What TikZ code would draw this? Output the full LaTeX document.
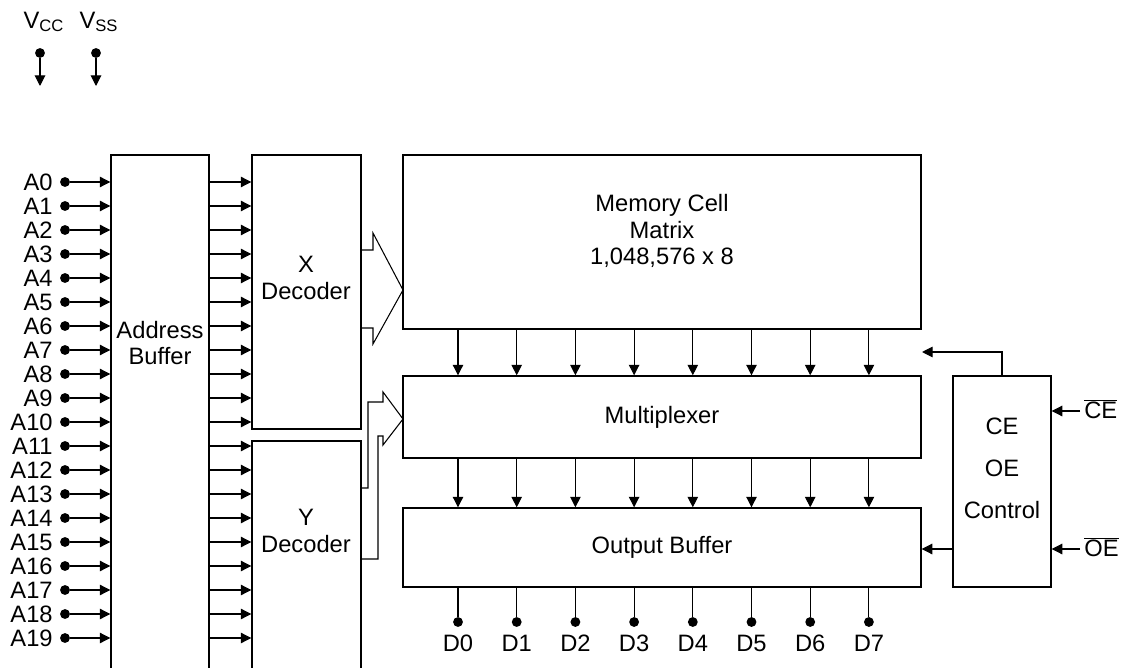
\documentclass[tikz,border=0pt]{standalone}
\usepackage{fontspec}
\setmainfont{Liberation Sans}
\usetikzlibrary{arrows.meta,fit}

\begin{document}
\begin{tikzpicture}[x=0.02cm, y=-0.02cm,
  font=\fontsize{13.5pt}{15pt}\selectfont,
  blk/.style={draw, line width=0.8pt, inner sep=0pt},
  sig/.style={line width=0.6pt, -{Triangle[length=6pt,width=6pt]}},
  wire/.style={line width=0.6pt},
  pin/.style={circle, fill, inner sep=0pt, minimum size=5.6pt}]

  % ====== 1) 画布（像素坐标，y 向下） ======
  \path[use as bounding box, clip] (0,0) rectangle (1124,668);

  % ====== 2) 电源引脚 ======
  \node[pin] (vcc) at (40,53) {};
  \node[pin] (vss) at (96,53) {};
  \coordinate (vccend) at (40,86);
  \coordinate (vssend) at (96,86);
  \draw[sig] (vcc) -- (vccend);
  \draw[sig] (vss) -- (vssend);
  \node (vcclab) at (44,22) {V\textsubscript{CC}};
  \node (vsslab) at (99,22) {V\textsubscript{SS}};

  % ====== 3) 方块 ======
  \node[blk, fit={(111,155) (209,700)}] (abuf) {};
  \node[blk, fit={(252,155) (361,429)}] (xdec) {};
  \node[blk, fit={(252,441) (361,700)}] (ydec) {};
  \node[blk, fit={(403,155) (921,329)}] (mem) {};
  \node[blk, fit={(403,376) (921,458)}] (mux) {};
  \node[blk, fit={(403,508) (921,587)}] (obuf) {};
  \node[blk, fit={(953,376) (1051,587)}] (ctrl) {};

  \node[align=center] (abuftxt) at (160,343) {Address\\Buffer};
  \node[align=center] (xdectxt) at (306,278) {X\\Decoder};
  \node[align=center] (ydectxt) at (306,531) {Y\\Decoder};
  \node[align=center] (memtxt) at (662,231) {Memory Cell\\Matrix\\1,048,576 x 8};
  \node (muxtxt) at (662,417) {Multiplexer};
  \node (obuftxt) at (662,547) {Output Buffer};
  \node[align=center] (ctrltxt) at (1002,468) {CE\\[9pt]OE\\[9pt]Control};

  % ====== 4) 地址引脚 A0--A19 ======
  \foreach \i in {0,...,19}{
    \pgfmathsetmacro{\yy}{182+24*\i}
    \node[pin] (a\i) at (65,\yy) {};
    \node[anchor=east, inner sep=0pt] (alab\i) at (53,\yy) {A\i};
    \draw[sig] (a\i) -- (a\i -| abuf.west);
  }
  \foreach \i in {0,...,10}
    \draw[sig] (abuf.east |- a\i) -- (xdec.west |- a\i);
  \foreach \i in {11,...,19}
    \draw[sig] (abuf.east |- a\i) -- (ydec.west |- a\i);

  % ====== 5) 空心箭头（译码器 -> 阵列 / 多路器） ======
  \draw[wire] (361,250) -- (373,250) -- (373,233) -- (403,290)
    -- (373,344) -- (373,328) -- (361,328);
  \draw[wire] (361,488) -- (368,488) -- (368,402) -- (383,402) -- (383,392)
    -- (403,419) -- (383,445) -- (383,436) -- (378,436) -- (378,559) -- (361,559);

  % ====== 6) 数据通路与输出引脚 D0--D7 ======
  \foreach \k in {0,...,7}{
    \pgfmathsetmacro{\xx}{458+58.7*\k}
    \node[pin] (d\k) at (\xx,622) {};
    \draw[sig] (mem.south -| d\k) -- (mux.north -| d\k);
    \draw[sig] (mux.south -| d\k) -- (obuf.north -| d\k);
    \draw[wire] (obuf.south -| d\k) -- (d\k);
    \node (dlab\k) at (\xx,643) {D\k};
  }

  % ====== 7) 控制 ======
  \coordinate (en) at (922,352);
  \coordinate (ce) at (1080,411);
  \coordinate (oe) at (1080,549);
  \draw[sig] (ctrl.north) -- (ctrl.north |- en) -- (en);
  \draw[sig] (ctrl.west |- oe) -- (obuf.east |- oe);
  \draw[sig] (ce) -- (ctrl.east |- ce);
  \draw[sig] (oe) -- (ctrl.east |- oe);
  \node[anchor=west, inner sep=0pt] (celab) at (1084,409) {$\overline{\mbox{CE}}$};
  \node[anchor=west, inner sep=0pt] (oelab) at (1084,547) {$\overline{\mbox{OE}}$};

\end{tikzpicture}
\end{document}
